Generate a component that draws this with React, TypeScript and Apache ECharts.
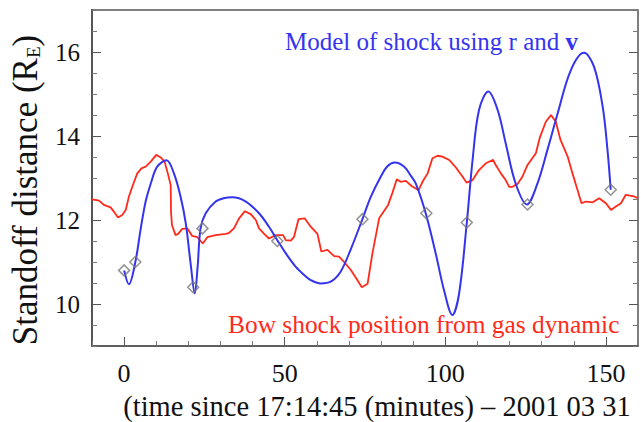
import React, { useEffect, useRef } from 'react';
import * as echarts from 'echarts';

// Bow shock position from gas dynamic (red)
const gasX = [-10, -7.8, -6.3, -4.2, -3.2, -1.9, -0.6, 0.5, 1.5, 2.9, 4.1, 5.4, 6.7, 8.3, 10.0, 11.4, 12.6, 13.6, 14.5, 14.6, 14.9, 16.0, 16.8, 18.1, 19.7, 21.2, 22.8, 24.5, 25.9, 28.5, 31.6, 32.6, 34.2, 35.8, 37.6, 39.4, 41.0, 42.0, 43.6, 45.1, 47.2, 49.5, 50.3, 51.9, 52.9, 54.3, 56.2, 58.1, 60.2, 61.4, 63.3, 65.4, 66.9, 68.5, 70.6, 72.6, 74.0, 75.8, 77.3, 79.4, 82.2, 83.5, 84.9, 86.1, 87.7, 89.5, 91.7, 92.9, 94.5, 96.0, 97.6, 99.1, 101.2, 103.3, 105.4, 106.6, 108.5, 110.5, 112.6, 114.9, 115.7, 117.3, 118.8, 119.9, 120.9, 122.5, 124.0, 125.6, 128.2, 129.5, 131.3, 132.9, 134.4, 135.9, 138.1, 139.6, 141.2, 142.4, 143.8, 145.9, 147.9, 150.0, 151.6, 153.1, 154.7, 156.2, 158.8, 160];
const gasY = [12.49, 12.46, 12.36, 12.30, 12.2, 12.06, 12.12, 12.24, 12.56, 12.87, 13.11, 13.23, 13.27, 13.39, 13.55, 13.49, 13.39, 13.11, 12.83, 12.2, 11.88, 11.64, 11.67, 11.79, 11.80, 11.62, 11.59, 11.44, 11.59, 11.64, 11.67, 11.69, 11.8, 12.04, 12.21, 12.14, 12.0, 11.8, 11.67, 11.56, 11.64, 11.64, 11.52, 11.51, 11.6, 12.02, 12.04, 11.84, 11.67, 11.25, 11.29, 11.14, 11.13, 11.0, 10.81, 10.57, 10.40, 10.48, 11.2, 12.04, 12.36, 12.64, 12.97, 12.91, 12.93, 12.81, 12.71, 12.91, 13.11, 13.47, 13.53, 13.51, 13.43, 13.25, 13.03, 12.89, 12.95, 13.19, 13.35, 13.43, 13.31, 13.11, 12.95, 12.79, 12.79, 12.86, 13.03, 13.31, 13.59, 13.98, 14.34, 14.5, 14.34, 13.9, 13.51, 13.11, 12.71, 12.4, 12.44, 12.42, 12.52, 12.4, 12.24, 12.32, 12.4, 12.6, 12.56, 12.52];

// Model of shock using r and v (blue)
const modelX = [0, 1.5, 3.5, 5.1, 6.7, 8.3, 10.3, 13.2, 15.5, 17.6, 19.2, 20.7, 22.0, 22.9, 23.8, 25.4, 28.5, 31.0, 33.7, 37.9, 42.0, 45.1, 47.7, 50.3, 53.4, 56.5, 58.1, 61.2, 64.3, 67.4, 70.5, 74.2, 76.8, 79.9, 82.0, 84.3, 87.2, 89.3, 90.8, 93.9, 97.0, 99.6, 102.2, 104.3, 106.7, 108.5, 110.5, 113.4, 116.3, 118.8, 121.9, 125.4, 128.7, 131.8, 135.0, 139.1, 143.2, 146.3, 149.0, 150.5, 151.5];
const modelY = [10.8, 10.47, 11.0, 11.76, 12.44, 12.87, 13.27, 13.42, 13.11, 12.55, 11.92, 10.97, 10.25, 10.9, 11.8, 12.16, 12.44, 12.52, 12.54, 12.44, 12.16, 11.84, 11.52, 11.21, 10.89, 10.66, 10.57, 10.49, 10.53, 10.77, 11.29, 12.02, 12.55, 13.03, 13.28, 13.37, 13.27, 13.05, 12.87, 12.16, 11.21, 10.33, 9.74, 10.25, 11.94, 13.43, 14.62, 15.06, 14.62, 13.83, 12.87, 12.37, 12.87, 13.67, 14.54, 15.57, 15.98, 15.65, 14.7, 13.67, 12.72];

// Diamond markers
const markX = [0, 3.5, 21.5, 24.4, 47.7, 74.2, 94.1, 106.7, 125.6, 151.5];
const markY = [10.8, 11.0, 10.4, 11.8, 11.5, 12.02, 12.16, 11.94, 12.37, 12.72];

const xTickLabels = [0, 50, 100, 150];
const yTickLabels = [10, 12, 14, 16];

const FONT = 'Liberation Serif';

export default function App() {
  const ref = useRef<HTMLDivElement>(null);
  useEffect(() => {
    document.body.style.margin = '0';
    const chart = echarts.init(ref.current as HTMLDivElement, null, { renderer: 'svg' });
    const axisColor = '#555';
    const baseX = {
      type: 'value', min: -10, max: 160, gridIndex: 0,
      splitLine: { show: false },
    };
    const baseY = {
      type: 'value', min: 9, max: 17, gridIndex: 0,
      splitLine: { show: false },
    };
    const option: any = {
      animation: false,
      backgroundColor: '#ffffff',
      textStyle: { fontFamily: FONT },
      grid: {
        left: 92, right: 3, top: 10, bottom: 76,
        containLabel: false, outerBoundsMode: 'none',
        show: true, borderColor: axisColor, borderWidth: 1.5, backgroundColor: 'transparent',
      },
      xAxis: [
        {
          ...baseX, position: 'bottom', interval: 10,
          axisLine: { show: true, onZero: false, lineStyle: { color: axisColor, width: 1.5 } },
          axisTick: { show: true, inside: true, length: 5, lineStyle: { color: '#777', width: 1 } },
          axisLabel: {
            show: true, margin: 14, color: '#111', fontFamily: FONT, fontSize: 26,
            formatter: (v: number) => (xTickLabels.indexOf(v) >= 0 ? String(v) : ''),
          },
          name: '(time since 17:14:45 (minutes) \u2013 2001 03 31',
          nameLocation: 'middle', nameGap: 46,
          nameTextStyle: { color: '#111', fontFamily: FONT, fontSize: 28.5, padding: [0, 0, 0, 24] },
        },
        {
          ...baseX, position: 'bottom',
          axisLine: { show: false, onZero: false },
          axisTick: { show: true, inside: true, length: 9, customValues: xTickLabels, lineStyle: { color: '#555', width: 1 } },
          axisLabel: { show: false },
        },
      ],
      yAxis: [
        {
          ...baseY, position: 'left', interval: 0.5,
          axisLine: { show: true, onZero: false, lineStyle: { color: axisColor, width: 2 } },
          axisTick: { show: true, inside: true, length: 5, lineStyle: { color: '#777', width: 1 } },
          axisLabel: {
            show: true, margin: 12, color: '#111', fontFamily: FONT, fontSize: 25,
            formatter: (v: number) => (yTickLabels.indexOf(v) >= 0 ? String(v) : ''),
          },
          name: 'Standoff distance (R{sub|E})',
          nameLocation: 'middle', nameGap: 49, nameRotate: 90,
          nameTextStyle: {
            color: '#111', fontFamily: FONT, fontSize: 35, padding: [0, 24, 0, 0],
            rich: { sub: { fontFamily: FONT, fontSize: 19, color: '#111', verticalAlign: 'bottom', padding: [8, 0, 0, 0] } },
          },
        },
        {
          ...baseY, position: 'left',
          axisLine: { show: false, onZero: false },
          axisTick: { show: true, inside: true, length: 9, customValues: yTickLabels, lineStyle: { color: '#555', width: 1 } },
          axisLabel: { show: false },
        },
        {
          ...baseY, position: 'right', interval: 0.5,
          axisLine: { show: false, onZero: false },
          axisTick: { show: true, inside: true, length: 5, lineStyle: { color: '#777', width: 1 } },
          axisLabel: { show: false },
        },
        {
          ...baseY, position: 'right',
          axisLine: { show: false, onZero: false },
          axisTick: { show: true, inside: true, length: 9, customValues: yTickLabels, lineStyle: { color: '#555', width: 1 } },
          axisLabel: { show: false },
        },
      ],
      series: [
        {
          type: 'line', name: 'Bow shock position from gas dynamic',
          xAxisIndex: 0, yAxisIndex: 0,
          data: gasX.map((x, i) => [x, gasY[i]]),
          symbol: 'none', lineStyle: { color: '#ff2a1a', width: 1.8 }, itemStyle: { color: '#ff2a1a' },
          z: 2,
        },
        {
          type: 'line', name: 'Model of shock using r and v',
          xAxisIndex: 0, yAxisIndex: 0,
          data: modelX.map((x, i) => [x, modelY[i]]),
          smooth: 0.35,
          symbol: 'none', lineStyle: { color: '#3434ee', width: 2 }, itemStyle: { color: '#3434ee' },
          z: 3,
        },
        {
          type: 'scatter', xAxisIndex: 0, yAxisIndex: 0,
          data: markX.map((x, i) => [x, markY[i]]),
          symbol: 'diamond', symbolSize: [11, 11],
          itemStyle: { color: 'rgba(255,255,255,0)', borderColor: '#777', borderWidth: 1.5 },
          z: 4,
        },
      ],
      graphic: [
        {
          type: 'text', left: 285, top: 29, z: 10,
          style: {
            text: 'Model of shock using r and {b|v}',
            fill: '#3535f0', fontFamily: FONT, fontSize: 25,
            rich: { b: { fontFamily: FONT, fontSize: 25, fontWeight: 'bold', fill: '#3535f0' } },
          },
        },
        {
          type: 'text', left: 228, top: 311, z: 10,
          style: { text: 'Bow shock position from gas dynamic', fill: '#ff2a1a', fontFamily: FONT, fontSize: 25.4 },
        },
      ],
    };
    chart.setOption(option);
    return () => chart.dispose();
  }, []);
  return <div ref={ref} style={{ width: 641, height: 422 }} />;
}
